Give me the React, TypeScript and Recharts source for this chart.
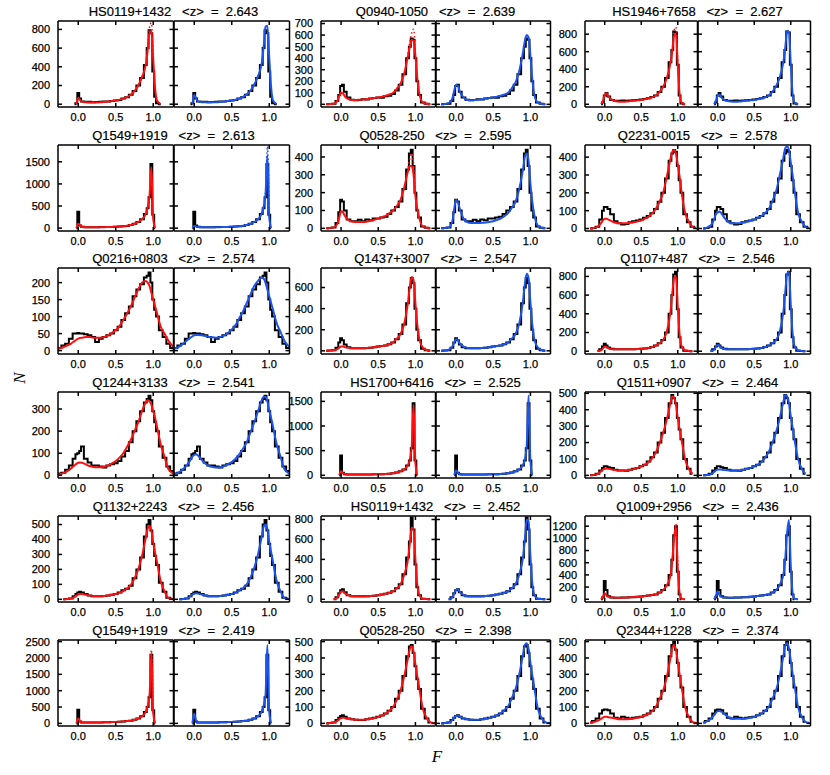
import React from "react";
import { ComposedChart, Line, XAxis, YAxis } from "recharts";

const _ = null;

// flux bin centres shared by every panel
const X = [
  -0.3, -0.25, -0.2, -0.15, -0.1,
  -0.05, -0.025, 0, 0.025, 0.05,
  0.1, 0.15, 0.2, 0.25, 0.3, 0.35, 0.4, 0.45, 0.5,
  0.55, 0.6, 0.65, 0.7, 0.75, 0.8, 0.85,
  0.9, 0.925, 0.95, 0.975, 1.0, 1.025, 1.05,
  1.1, 1.15, 1.2, 1.25, 1.3,
];
// dotted model points around the transmission peak
const DOT_X = [0.9, 0.925, 0.95, 0.975, 1.0];

const NAMES = ["HS0119+1432", "Q0940-1050", "HS1946+7658", "Q1549+1919", "Q0528-250", "Q2231-0015", "Q0216+0803", "Q1437+3007", "Q1107+487", "Q1244+3133", "HS1700+6416", "Q1511+0907", "Q1132+2243", "HS0119+1432", "Q1009+2956", "Q1549+1919", "Q0528-250", "Q2344+1228"];
const ZMEAN = ["2.643", "2.639", "2.627", "2.613", "2.595", "2.578", "2.574", "2.547", "2.546", "2.541", "2.525", "2.464", "2.456", "2.452", "2.436", "2.419", "2.398", "2.374"];
const Y_MIN = [-30, -23, -31, -65, -15, -14, -10, -30, -30, -12, -55, -16, -18, -27, -45, -80, -16, -16];
const Y_MAX = [890, 722, 950, 1880, 467, 468, 243, 785, 890, 377, 1690, 508, 557, 835, 1367, 2550, 510, 510];
const Y_TICKS = [
  [0, 200, 400, 600, 800],
  [0, 100, 200, 300, 400, 500, 600, 700],
  [0, 200, 400, 600, 800],
  [0, 500, 1000, 1500],
  [0, 100, 200, 300, 400],
  [0, 100, 200, 300, 400],
  [0, 50, 100, 150, 200],
  [0, 200, 400, 600],
  [0, 200, 400, 600, 800],
  [0, 100, 200, 300],
  [0, 500, 1000, 1500],
  [0, 100, 200, 300, 400, 500],
  [0, 100, 200, 300, 400, 500],
  [0, 200, 400, 600, 800],
  [0, 200, 400, 600, 800, 1000, 1200],
  [0, 500, 1000, 1500, 2000, 2500],
  [0, 100, 200, 300, 400, 500],
  [0, 100, 200, 300, 400, 500],
];

// h = observed histogram, r = red model, b = blue model
const h01 = [_, _, _, _, _, 0, 10, 120, 60, 30, 25, 25, 22, 24, 25, 28, 30, 35, 40, 45, 60, 75, 100, 140, 200, 280, 420, 600, 790, 760, 350, 80, 10, 0, _, _, _, _];
const r01 = [_, _, _, _, _, _, 0, 70, 45, 25, 20, 18, 18, 19, 20, 24, 28, 34, 40, 48, 60, 75, 100, 140, 200, 290, 420, 570, 760, 780, 480, 170, 40, 0, _, _, _, _];
const b01 = [_, _, _, _, _, _, 0, 100, 60, 30, 22, 20, 20, 21, 22, 26, 30, 35, 40, 48, 60, 78, 105, 145, 210, 300, 440, 610, 830, 840, 500, 180, 40, 0, _, _, _, _];

const h02 = [_, _, 0, 2, 5, 30, 80, 160, 170, 110, 60, 40, 35, 38, 45, 42, 50, 55, 60, 58, 70, 75, 90, 120, 170, 260, 400, 500, 570, 560, 400, 200, 80, 15, 5, 0, _, _];
const r02 = [_, _, 0, 2, 5, 30, 70, 100, 95, 70, 45, 38, 38, 40, 42, 45, 50, 55, 60, 66, 75, 85, 100, 135, 180, 270, 420, 500, 560, 550, 420, 230, 100, 15, 5, 0, _, _];
const b02 = [_, _, 0, 3, 10, 50, 120, 170, 160, 110, 60, 40, 35, 37, 40, 45, 50, 55, 60, 66, 75, 85, 100, 140, 190, 290, 450, 550, 600, 580, 420, 220, 90, 15, 5, 0, _, _];

const h03 = [_, _, _, _, _, 0, 20, 100, 130, 90, 50, 40, 40, 42, 40, 42, 45, 50, 55, 60, 70, 82, 100, 140, 200, 300, 480, 620, 830, 820, 450, 100, 10, 0, _, _, _, _];
const r03 = [_, _, _, _, _, 0, 40, 110, 125, 90, 50, 35, 30, 30, 32, 36, 40, 45, 50, 57, 65, 80, 100, 140, 200, 300, 470, 610, 780, 800, 450, 120, 20, 0, _, _, _, _];
const b03 = [_, _, _, _, _, 0, 40, 100, 110, 80, 45, 35, 30, 30, 32, 36, 40, 45, 50, 57, 65, 80, 100, 145, 210, 310, 490, 650, 840, 820, 460, 120, 20, 0, _, _, _, _];

const h04 = [_, _, _, _, _, _, 0, 370, 60, 30, 20, 20, 20, 22, 25, 25, 25, 28, 30, 35, 40, 50, 70, 100, 140, 200, 320, 450, 700, 1450, 300, 0, _, _, _, _, _, _];
const r04 = [_, _, _, _, _, _, 0, 100, 60, 30, 20, 18, 18, 19, 20, 22, 25, 28, 30, 35, 40, 52, 70, 100, 140, 200, 320, 460, 720, 1380, 200, 0, _, _, _, _, _, _];
const b04 = [_, _, _, _, _, _, 0, 50, 40, 30, 20, 18, 18, 19, 20, 22, 25, 28, 30, 35, 40, 52, 70, 100, 140, 200, 330, 480, 750, 1650, 250, 0, _, _, _, _, _, _];

const h05 = [_, _, 0, 2, 5, 30, 90, 160, 150, 100, 50, 40, 40, 48, 40, 50, 45, 55, 55, 60, 65, 80, 100, 120, 150, 220, 330, 420, 440, 350, 200, 100, 60, 10, 3, 0, _, _];
const r05 = [_, _, 0, 2, 5, 25, 60, 95, 90, 70, 45, 38, 35, 35, 35, 38, 42, 48, 55, 62, 70, 85, 100, 125, 160, 230, 320, 350, 350, 300, 180, 110, 60, 10, 3, 0, _, _];
const b05 = [_, _, 0, 2, 5, 40, 110, 160, 145, 110, 55, 35, 30, 30, 30, 31, 33, 36, 40, 47, 55, 68, 85, 115, 150, 220, 330, 400, 420, 380, 250, 150, 80, 15, 4, 0, _, _];

const h06 = [_, _, 0, 3, 10, 50, 100, 120, 120, 110, 80, 40, 30, 22, 25, 35, 40, 45, 50, 60, 70, 85, 110, 150, 200, 280, 380, 420, 440, 430, 350, 270, 200, 80, 35, 10, 3, _];
const r06 = [_, _, 0, 3, 10, 30, 45, 55, 55, 50, 40, 32, 30, 30, 30, 32, 35, 40, 45, 55, 65, 85, 110, 150, 200, 290, 390, 430, 440, 420, 360, 290, 210, 90, 40, 10, 3, _];
const b06 = [_, _, 0, 5, 15, 50, 80, 90, 95, 85, 55, 35, 30, 30, 30, 34, 38, 44, 50, 60, 70, 88, 110, 155, 210, 300, 400, 450, 460, 440, 370, 300, 220, 90, 40, 10, 3, _];

const h07 = [5, 8, 15, 20, 35, 50, 50, 52, 50, 50, 48, 45, 40, 25, 35, 40, 45, 50, 60, 70, 90, 110, 130, 160, 180, 195, 215, 220, 230, 200, 150, 120, 100, 60, 40, 20, 8, 5];
const r07 = [3, 6, 10, 15, 20, 28, 32, 35, 37, 38, 40, 40, 38, 38, 38, 40, 45, 52, 60, 72, 90, 108, 130, 155, 180, 200, 205, 200, 190, 170, 150, 130, 110, 70, 50, 30, 15, 10];
const b07 = [3, 7, 12, 20, 30, 38, 42, 45, 46, 46, 45, 43, 40, 39, 38, 40, 45, 52, 62, 75, 95, 115, 140, 165, 190, 205, 215, 212, 200, 180, 160, 140, 120, 80, 55, 30, 15, 10];

const h08 = [_, _, 0, 2, 5, 30, 80, 120, 100, 60, 35, 25, 25, 24, 25, 28, 30, 35, 40, 45, 50, 62, 80, 110, 160, 250, 450, 600, 690, 640, 400, 200, 100, 20, 5, 0, _, _];
const r08 = [_, _, 0, 2, 5, 15, 30, 40, 40, 35, 28, 25, 25, 25, 25, 28, 30, 35, 40, 45, 50, 62, 80, 115, 160, 260, 460, 610, 700, 670, 450, 250, 120, 30, 8, 0, _, _];
const b08 = [_, _, 0, 3, 10, 40, 80, 110, 100, 70, 40, 28, 25, 25, 25, 28, 30, 35, 40, 45, 50, 62, 80, 115, 160, 260, 470, 630, 730, 690, 460, 250, 120, 30, 8, 0, _, _];

const h09 = [_, _, _, _, 5, 20, 50, 80, 60, 40, 25, 20, 20, 20, 20, 21, 22, 24, 25, 30, 35, 45, 60, 85, 120, 200, 400, 600, 820, 850, 450, 150, 40, 5, 2, 0, _, _];
const r09 = [_, _, _, _, 0, 10, 30, 50, 45, 30, 22, 20, 20, 20, 20, 21, 22, 24, 25, 30, 35, 45, 60, 85, 120, 210, 420, 620, 780, 800, 480, 180, 60, 10, 3, 0, _, _];
const b09 = [_, _, _, _, 0, 15, 45, 70, 55, 35, 22, 20, 20, 20, 20, 21, 22, 24, 25, 30, 35, 45, 60, 85, 120, 210, 430, 640, 830, 850, 500, 190, 60, 10, 3, 0, _, _];

const h10 = [5, 8, 12, 25, 45, 75, 95, 100, 110, 130, 75, 58, 45, 45, 40, 35, 45, 50, 55, 65, 85, 110, 150, 200, 245, 290, 330, 345, 360, 340, 290, 240, 200, 130, 80, 40, 20, 10];
const r10 = [2, 5, 10, 18, 30, 45, 52, 57, 58, 57, 50, 42, 38, 37, 37, 40, 45, 54, 65, 80, 100, 128, 160, 200, 240, 290, 330, 340, 335, 320, 290, 260, 220, 140, 85, 30, 12, 5];
const b10 = [3, 7, 15, 28, 45, 70, 85, 92, 95, 90, 70, 52, 42, 38, 35, 37, 42, 50, 60, 75, 95, 120, 150, 195, 240, 290, 340, 355, 355, 335, 295, 260, 220, 140, 85, 30, 12, 5];

const h11 = [_, _, _, _, _, _, 0, 400, 50, 20, 15, 15, 15, 15, 15, 16, 18, 19, 20, 22, 25, 30, 40, 55, 80, 120, 200, 300, 550, 1460, 300, 0, _, _, _, _, _, _];
const r11 = [_, _, _, _, _, _, 0, 80, 40, 20, 15, 15, 15, 15, 15, 16, 18, 19, 20, 22, 25, 30, 40, 55, 80, 120, 210, 320, 580, 1430, 250, 0, _, _, _, _, _, _];
const b11 = [_, _, _, _, _, _, 0, 100, 50, 20, 15, 15, 15, 15, 15, 16, 18, 19, 20, 22, 25, 30, 40, 55, 80, 120, 210, 320, 600, 1620, 300, 0, _, _, _, _, _, _];

const h12 = [_, _, 0, 3, 10, 30, 45, 55, 55, 50, 45, 35, 30, 30, 28, 35, 40, 45, 55, 65, 85, 110, 140, 200, 260, 350, 440, 490, 470, 440, 350, 280, 220, 100, 40, 10, _, _];
const r12 = [_, _, 0, 3, 8, 25, 35, 40, 42, 40, 36, 32, 30, 30, 30, 34, 38, 45, 55, 65, 80, 105, 140, 195, 260, 340, 440, 480, 475, 430, 350, 280, 220, 100, 40, 10, _, _];
const b12 = [_, _, 0, 2, 5, 20, 30, 35, 36, 35, 32, 30, 28, 29, 30, 35, 40, 46, 55, 66, 82, 108, 145, 200, 265, 350, 450, 490, 480, 440, 360, 290, 220, 100, 40, 10, _, _];

const h13 = [_, _, 0, 2, 5, 20, 35, 45, 50, 45, 35, 25, 20, 20, 20, 22, 25, 30, 35, 45, 60, 70, 90, 140, 200, 280, 420, 500, 530, 460, 370, 290, 230, 110, 50, 10, 3, _];
const r13 = [_, _, 0, 2, 5, 15, 25, 32, 35, 35, 30, 25, 20, 20, 20, 22, 25, 30, 35, 43, 55, 72, 95, 140, 200, 290, 410, 470, 490, 460, 380, 310, 250, 120, 55, 10, 3, 0];
const b13 = [_, _, 0, 2, 5, 20, 30, 38, 40, 38, 32, 25, 20, 20, 20, 22, 25, 30, 35, 45, 58, 75, 100, 145, 210, 300, 420, 485, 500, 470, 385, 315, 250, 120, 55, 10, 3, 0];

const h14 = [_, _, _, _, 0, 20, 60, 90, 100, 70, 40, 30, 30, 30, 30, 31, 32, 36, 40, 47, 55, 65, 80, 110, 150, 250, 420, 580, 820, 700, 350, 120, 40, 5, 2, 0, _, _];
const r14 = [_, _, _, _, 0, 15, 50, 75, 80, 60, 40, 30, 28, 28, 28, 30, 32, 36, 40, 47, 55, 65, 80, 110, 150, 250, 400, 560, 720, 700, 400, 150, 50, 5, 2, 0, _, _];
const b14 = [_, _, _, _, 0, 20, 60, 95, 100, 75, 45, 30, 28, 28, 28, 30, 32, 36, 40, 47, 55, 65, 80, 110, 150, 250, 420, 600, 800, 780, 430, 160, 50, 5, 2, 0, _, _];

const h15 = [_, _, _, _, _, 0, 30, 300, 150, 50, 30, 25, 25, 27, 30, 32, 35, 40, 45, 52, 60, 70, 80, 110, 150, 230, 400, 650, 1050, 1200, 450, 80, 0, _, _, _, _, _];
const r15 = [_, _, _, _, _, 0, 40, 100, 60, 40, 28, 25, 25, 26, 28, 32, 35, 40, 45, 52, 60, 70, 80, 110, 150, 230, 390, 640, 1000, 1200, 500, 100, 10, 0, _, _, _, _];
const b15 = [_, _, _, _, _, 0, 60, 130, 70, 40, 28, 25, 25, 26, 28, 32, 35, 40, 45, 52, 60, 70, 80, 110, 150, 240, 410, 680, 1100, 1300, 550, 110, 10, 0, _, _, _, _];

const h16 = [_, _, _, _, _, _, 0, 420, 60, 30, 25, 25, 25, 28, 30, 32, 35, 40, 45, 52, 60, 70, 80, 110, 150, 220, 350, 500, 800, 2100, 400, 0, _, _, _, _, _, _];
const r16 = [_, _, _, _, _, _, 0, 150, 60, 30, 25, 25, 25, 28, 30, 32, 35, 40, 45, 52, 60, 70, 80, 110, 150, 220, 350, 520, 820, 2150, 300, 0, _, _, _, _, _, _];
const b16 = [_, _, _, _, _, _, 0, 300, 80, 30, 25, 25, 25, 28, 30, 32, 35, 40, 45, 52, 60, 70, 80, 110, 150, 220, 360, 540, 850, 2400, 350, 0, _, _, _, _, _, _];

const h17 = [_, _, 0, 2, 5, 20, 35, 45, 50, 40, 30, 25, 22, 20, 20, 25, 30, 35, 40, 48, 60, 78, 100, 150, 200, 290, 410, 470, 480, 430, 350, 270, 210, 90, 30, 5, _, _];
const r17 = [_, _, 0, 2, 5, 15, 25, 32, 35, 33, 28, 25, 22, 22, 22, 25, 28, 33, 40, 48, 60, 78, 100, 145, 200, 290, 400, 455, 470, 440, 360, 290, 220, 90, 35, 8, 2, 0];
const b17 = [_, _, 0, 2, 5, 20, 35, 45, 47, 42, 32, 25, 22, 22, 22, 25, 28, 33, 40, 50, 62, 82, 105, 155, 210, 300, 420, 480, 490, 455, 370, 295, 225, 90, 35, 8, 2, 0];

const h18 = [_, _, 5, 15, 30, 60, 80, 85, 85, 80, 60, 35, 30, 40, 35, 30, 35, 38, 40, 50, 60, 78, 100, 150, 200, 290, 410, 480, 500, 450, 370, 290, 220, 100, 40, 10, _, _];
const r18 = [_, _, 2, 8, 15, 28, 35, 40, 40, 38, 35, 30, 25, 25, 25, 27, 30, 35, 40, 48, 58, 75, 100, 150, 200, 285, 400, 460, 480, 450, 380, 300, 230, 100, 40, 10, 3, 0];
const b18 = [_, _, 3, 12, 25, 50, 65, 75, 76, 72, 55, 38, 30, 28, 28, 29, 30, 35, 40, 48, 60, 78, 102, 152, 205, 295, 415, 475, 490, 460, 385, 305, 235, 100, 40, 10, 3, 0];

// dotted overshoot of the model at the peak (only where it shows)
const dr01 = [430, 600, 820, 870, 500];
const dr02 = [440, 540, 620, 650, 450];
const dr03 = [480, 640, 840, 880, 470];
const db04 = [330, 500, 800, 1850, 300];
const dr05 = [340, 390, 420, 360, 200];
const dr15 = [400, 660, 1050, 1240, 520];
const dr16 = [360, 540, 860, 2250, 320];

const HIST = [h01, h02, h03, h04, h05, h06, h07, h08, h09, h10, h11, h12, h13, h14, h15, h16, h17, h18];
const RED = [r01, r02, r03, r04, r05, r06, r07, r08, r09, r10, r11, r12, r13, r14, r15, r16, r17, r18];
const BLUE = [b01, b02, b03, b04, b05, b06, b07, b08, b09, b10, b11, b12, b13, b14, b15, b16, b17, b18];
const DOT_RED = [dr01, dr02, dr03, _, dr05, _, _, _, _, _, _, _, _, _, dr15, dr16, _, _];
const DOT_BLUE = [_, _, _, db04, _, _, _, _, _, _, _, _, _, _, _, _, _, _];

const FONT = "'Liberation Sans', Arial, sans-serif";
const X_DOMAIN: [number, number] = [-0.27, 1.27];
const X_TICKS = [0, 0.5, 1];
const COL_LEFT = [58, 321, 585];
const SUB_W = [115.5, 114.5, 112.5];
const ROW_TOP = 20.7;
const ROW_GAP = 123.8;
const BOX_H = 86;
const PAD_T = 8;
const PAD_R = 3;
const AXIS_W = 40;
const AXIS_H = 22;

const frame = { stroke: "#000", strokeWidth: 1.5 };
const tickText = { fill: "#000", fontSize: 11, fontFamily: FONT, stroke: "#000", strokeWidth: 0.25 };

const SubPlot = ({ idx, side, left, top, w }: { idx: number; side: number; left: number; top: number; w: number }) => {
  const model = side === 0 ? RED[idx] : BLUE[idx];
  const color = side === 0 ? "#ff1010" : "#1a55ee";
  const data = X.map((x, i) => ({ x, h: HIST[idx][i], m: model[i] }));
  const dots = side === 0 ? DOT_RED[idx] : DOT_BLUE[idx];
  const dotData = dots ? DOT_X.map((x, i) => ({ x, d: dots[i] })) : null;
  // the right panel keeps a 1px left axis so its frame line is still drawn
  const yw = side === 0 ? AXIS_W : 1;
  const yDomain: [number, number] = [Y_MIN[idx], Y_MAX[idx]];

  return (
    <div style={{ position: "absolute", left: left - yw, top: top - PAD_T - 1 }}>
      <ComposedChart
        width={yw + w + 1 + PAD_R}
        height={PAD_T + 1 + BOX_H + AXIS_H}
        data={data}
        margin={{ top: PAD_T, right: PAD_R, bottom: 0, left: 0 }}
      >
        <XAxis
          xAxisId="b"
          dataKey="x"
          type="number"
          domain={X_DOMAIN}
          allowDataOverflow
          ticks={X_TICKS}
          interval={0}
          tickFormatter={(v: number) => v.toFixed(1)}
          height={AXIS_H}
          tickSize={-4}
          tickMargin={10}
          axisLine={frame}
          tickLine={frame}
          tick={tickText}
        />
        <XAxis
          xAxisId="t"
          orientation="top"
          dataKey="x"
          type="number"
          domain={X_DOMAIN}
          allowDataOverflow
          ticks={X_TICKS}
          interval={0}
          tickFormatter={() => ""}
          height={1}
          tickSize={-4}
          axisLine={frame}
          tickLine={frame}
        />
        <YAxis
          yAxisId="l"
          type="number"
          domain={yDomain}
          allowDataOverflow
          ticks={Y_TICKS[idx]}
          interval={0}
          width={yw}
          tickSize={-4}
          tickMargin={12}
          tickFormatter={side === 0 ? (v: number) => String(v) : () => ""}
          axisLine={frame}
          tickLine={frame}
          tick={tickText}
        />
        <YAxis
          yAxisId="r"
          orientation="right"
          type="number"
          domain={yDomain}
          allowDataOverflow
          ticks={Y_TICKS[idx]}
          interval={0}
          width={1}
          tickSize={-4}
          tickFormatter={() => ""}
          axisLine={frame}
          tickLine={frame}
        />
        <Line
          xAxisId="b"
          yAxisId="l"
          dataKey="h"
          type="step"
          stroke="#000"
          strokeWidth={2}
          dot={false}
          isAnimationActive={false}
        />
        {dotData && (
          <Line
            xAxisId="b"
            yAxisId="l"
            data={dotData}
            dataKey="d"
            type="monotone"
            stroke={color}
            strokeWidth={1.5}
            strokeDasharray="1.5 2.5"
            dot={false}
            isAnimationActive={false}
          />
        )}
        <Line
          xAxisId="b"
          yAxisId="l"
          dataKey="m"
          type="monotone"
          stroke={color}
          strokeWidth={2}
          dot={false}
          isAnimationActive={false}
        />
      </ComposedChart>
    </div>
  );
};

const App: React.FC = () => {
  return (
    <div style={{ position: "absolute", left: 0, top: 0, width: 830, height: 775, background: "#fff", overflow: "hidden" }}>
      {NAMES.map((name, idx) => {
        const row = Math.floor(idx / 3);
        const col = idx % 3;
        const top = ROW_TOP + ROW_GAP * row;
        const left = COL_LEFT[col];
        const w = SUB_W[col];
        return (
          <React.Fragment key={idx}>
            <div
              style={{
                position: "absolute",
                left: left - 20,
                top: top - 17,
                width: 2 * w + 40,
                textAlign: "center",
                fontFamily: FONT,
                fontSize: 13,
                lineHeight: "15px",
                whiteSpace: "pre",
                color: "#000",
                WebkitTextStroke: "0.2px #000",
              }}
            >
              {`${name}   <z>  =  ${ZMEAN[idx]}`}
            </div>
            <SubPlot idx={idx} side={0} left={left} top={top} w={w} />
            <SubPlot idx={idx} side={1} left={left + w} top={top} w={w} />
          </React.Fragment>
        );
      })}
      <div
        style={{
          position: "absolute",
          left: 10,
          top: 368,
          width: 20,
          height: 20,
          lineHeight: "20px",
          textAlign: "center",
          fontFamily: "'Liberation Serif', serif",
          fontStyle: "italic",
          fontSize: 17,
          transform: "rotate(-90deg)",
        }}
      >
        N
      </div>
      <div
        style={{
          position: "absolute",
          left: 427,
          top: 747,
          width: 20,
          height: 20,
          lineHeight: "20px",
          textAlign: "center",
          fontFamily: "'Liberation Serif', serif",
          fontStyle: "italic",
          fontSize: 17,
        }}
      >
        F
      </div>
    </div>
  );
};

export default App;
